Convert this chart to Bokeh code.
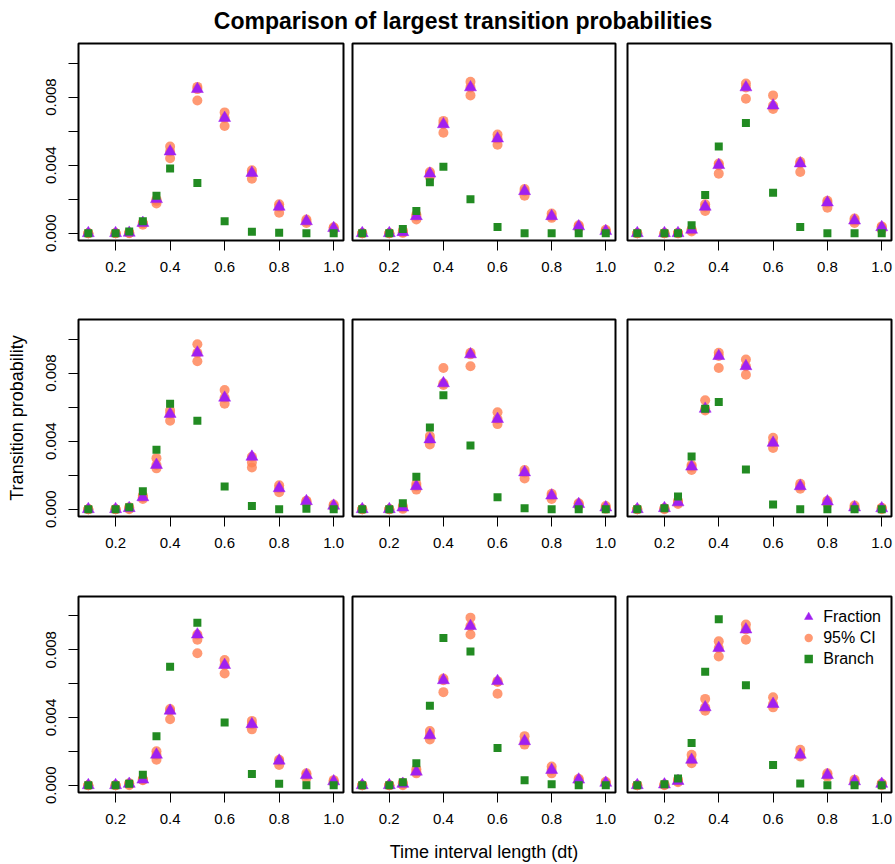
from bokeh.plotting import figure
from bokeh.models import (Range1d, FixedTicker, Legend, LegendItem, Div,
                          ColumnDataSource, PrintfTickFormatter)
from bokeh.layouts import gridplot, column
from bokeh.embed import file_html
from bokeh.resources import INLINE

# ---------------- data ----------------
x_dt = [0.1, 0.2, 0.25, 0.3, 0.35, 0.4, 0.5, 0.6, 0.7, 0.8, 0.9, 1.0]
x_ticks = [0.2, 0.4, 0.6, 0.8, 1.0]
y_ticks = [0.0, 0.004, 0.008]
y_minor_ticks = [0.002, 0.006, 0.010]

frac_1 = [0, 0, 0.00002, 0.0006, 0.002, 0.0048, 0.00847, 0.00677, 0.00354, 0.00155, 0.0007, 0.0003]
lo_1 = [0, 0, 0, 0.0005, 0.00175, 0.0044, 0.0078, 0.0063, 0.0032, 0.0012, 0.0006, 0.0002]
hi_1 = [0, 0, 0.00003, 0.0006, 0.0019, 0.0051, 0.0086, 0.0071, 0.0037, 0.0017, 0.0008, 0.00035]
branch_1 = [0, 0, 0.0001, 0.0007, 0.0022, 0.0038, 0.00295, 0.0007, 0.00008, 0.00002, 0, 0]

frac_2 = [0, 0, 0.00006, 0.001, 0.0035, 0.0064, 0.00857, 0.00556, 0.00247, 0.001, 0.0004, 0.00012]
lo_2 = [0, 0, 0.00002, 0.0008, 0.0033, 0.0059, 0.0081, 0.0052, 0.0022, 0.0009, 0.0003, 0.0001]
hi_2 = [0, 0, 0.00016, 0.0011, 0.0036, 0.0066, 0.0089, 0.0058, 0.0026, 0.00115, 0.00047, 0.0002]
branch_2 = [0, 0, 0.00025, 0.0013, 0.003, 0.0039, 0.002, 0.00037, 0, 0, 0, 0]

frac_3 = [0, 0, 0, 0.0002, 0.00155, 0.004, 0.00857, 0.0075, 0.0041, 0.0018, 0.00074, 0.00035]
lo_3 = [0, 0, 0, 0.0001, 0.0013, 0.0035, 0.0079, 0.0073, 0.0036, 0.0015, 0.0006, 0.0002]
hi_3 = [0, 0, 0.00002, 0.0002, 0.0017, 0.0041, 0.0088, 0.0081, 0.0042, 0.0019, 0.00086, 0.0004]
branch_3 = [0, 0, 0, 0.00047, 0.00225, 0.0051, 0.00648, 0.00237, 0.00037, 0, 0, 0]

frac_4 = [0, 0, 0.00006, 0.0007, 0.0026, 0.0056, 0.0092, 0.00655, 0.00308, 0.00123, 0.00047, 0.0002]
lo_4 = [0, 0, 0, 0.0006, 0.0024, 0.0052, 0.0087, 0.0062, 0.00245, 0.001, 0.00037, 0.00012]
hi_4 = [0, 0, 0.00012, 0.0008, 0.003, 0.0058, 0.0097, 0.007, 0.00275, 0.0014, 0.0005, 0.00027]
branch_4 = [0, 0, 0.00012, 0.00105, 0.0035, 0.0062, 0.0052, 0.00133, 0.00018, 0, 0.00002, 0]

frac_5 = [0, 0, 0.0001, 0.00135, 0.0041, 0.0074, 0.0091, 0.0053, 0.00216, 0.0008, 0.0003, 0.0001]
lo_5 = [0, 0, 0.00002, 0.00115, 0.0038, 0.0073, 0.0084, 0.005, 0.0018, 0.0006, 0.00018, 0.00002]
hi_5 = [0, 0, 0.00018, 0.0015, 0.0043, 0.0083, 0.0092, 0.0057, 0.0023, 0.0009, 0.00035, 0.00018]
branch_5 = [0, 0, 0.00035, 0.0019, 0.0048, 0.0067, 0.00374, 0.0007, 0.00006, 0, 0, 0]

frac_6 = [0, 0.00006, 0.0004, 0.0025, 0.0059, 0.009, 0.0084, 0.0039, 0.00135, 0.00045, 0.0001, 0.00005]
lo_6 = [0, 0, 0.0003, 0.0023, 0.0058, 0.0083, 0.0079, 0.0036, 0.0012, 0.0003, 0.00006, 0]
hi_6 = [0, 0.00006, 0.0005, 0.0026, 0.0064, 0.0092, 0.0088, 0.0042, 0.0015, 0.0005, 0.00022, 0.00008]
branch_6 = [0, 0.00006, 0.00074, 0.0031, 0.0059, 0.0063, 0.00234, 0.00027, 0, 0, 0, 0]

frac_7 = [0, 0, 0.00008, 0.00033, 0.0018, 0.0044, 0.0089, 0.0071, 0.0036, 0.00145, 0.0006, 0.00023]
lo_7 = [0, 0, 0, 0.0003, 0.0015, 0.0039, 0.0078, 0.0066, 0.0033, 0.0012, 0.00043, 0.00014]
hi_7 = [0, 0, 0.00012, 0.00037, 0.002, 0.0045, 0.0086, 0.0074, 0.0038, 0.0015, 0.0007, 0.0003]
branch_7 = [0, 0, 0.00008, 0.00062, 0.0029, 0.007, 0.0096, 0.0037, 0.00066, 0.00008, 0, 0]

frac_8 = [0, 0, 0.00008, 0.0008, 0.00295, 0.0062, 0.0094, 0.00615, 0.0026, 0.0009, 0.00033, 0.00014]
lo_8 = [0, 0, 0, 0.0007, 0.0027, 0.0055, 0.0089, 0.0054, 0.0024, 0.0007, 0.00023, 0.00008]
hi_8 = [0, 0, 0.00014, 0.00095, 0.0032, 0.0063, 0.0099, 0.0061, 0.0029, 0.0011, 0.00038, 0.0002]
branch_8 = [0, 0, 0.00018, 0.0013, 0.0047, 0.0087, 0.0079, 0.0022, 0.0003, 0.00006, 0, 0]

frac_9 = [0, 0.00004, 0.00025, 0.0015, 0.0046, 0.0081, 0.0092, 0.0048, 0.0018, 0.0006, 0.00023, 0.00008]
lo_9 = [0, 0, 0.00018, 0.0013, 0.0044, 0.0076, 0.0086, 0.0046, 0.0017, 0.0005, 0.00014, 0]
hi_9 = [0, 0.00004, 0.00033, 0.0018, 0.0051, 0.0085, 0.0095, 0.0052, 0.0021, 0.0007, 0.00033, 0.0001]
branch_9 = [0, 0.00006, 0.0004, 0.0025, 0.0067, 0.0098, 0.0059, 0.0012, 0.0001, 0, 0, 0]

panels = [
    (frac_1, lo_1, hi_1, branch_1), (frac_2, lo_2, hi_2, branch_2), (frac_3, lo_3, hi_3, branch_3),
    (frac_4, lo_4, hi_4, branch_4), (frac_5, lo_5, hi_5, branch_5), (frac_6, lo_6, hi_6, branch_6),
    (frac_7, lo_7, hi_7, branch_7), (frac_8, lo_8, hi_8, branch_8), (frac_9, lo_9, hi_9, branch_9),
]

title_text = "Comparison of largest transition probabilities"
y_label = "Transition probability"
x_label = "Time interval length (dt)"
legend_labels = ["Fraction", "95% CI", "Branch"]

# ---------------- style / layout ----------------
FONT = "Liberation Sans"
C_FRAC = "#A020F0"
C_CI = "#FF7F50"
C_BRANCH = "#228B22"

col_L = [78, 5, 6]
col_F = [265, 263, 264]
col_R = [4, 6, 4]
row_T = [5, 40, 40]
row_F = [197, 197, 196]
row_B = [39, 40, 72]

figs = []
for r in range(3):
    row = []
    for c in range(3):
        k = r * 3 + c
        frac, lo, hi, branch = panels[k]
        src = ColumnDataSource(dict(x=x_dt, frac=frac, lo=lo, hi=hi, branch=branch))
        p = figure(width=col_L[c] + col_F[c] + col_R[c],
                   height=row_T[r] + row_F[r] + row_B[r],
                   x_range=Range1d(0.064, 1.036),
                   y_range=Range1d(-0.00043, 0.01115),
                   output_backend="svg", toolbar_location=None, tools="",
                   min_border_left=col_L[c], min_border_right=col_R[c],
                   min_border_top=row_T[r], min_border_bottom=row_B[r],
                   x_axis_location="below",
                   y_axis_location="left" if c == 0 else None)
        p.grid.visible = False
        p.outline_line_color = "black"
        p.outline_line_width = 2
        p.background_fill_color = "white"
        p.border_fill_color = "white"

        xa = p.xaxis[0]
        xa.ticker = FixedTicker(ticks=x_ticks)
        xa.formatter = PrintfTickFormatter(format="%.1f")
        xa.axis_line_color = None
        xa.major_tick_out = 10
        xa.major_tick_in = 0
        xa.major_tick_line_color = "black"
        xa.major_tick_line_width = 1
        xa.major_label_text_font = FONT
        xa.major_label_text_font_size = "15px"
        xa.major_label_text_color = "black"
        xa.major_label_standoff = 11
        if r == 2 and c == 1:
            xa.axis_label = x_label
            xa.axis_label_text_font = FONT
            xa.axis_label_text_font_size = "18px"
            xa.axis_label_text_font_style = "normal"
            xa.axis_label_text_color = "black"
            xa.axis_label_standoff = 15

        if c == 0:
            ya = p.yaxis[0]
            ya.ticker = FixedTicker(ticks=y_ticks, minor_ticks=y_minor_ticks)
            ya.formatter = PrintfTickFormatter(format="%.3f")
            ya.axis_line_color = None
            ya.major_tick_out = 10
            ya.major_tick_in = 0
            ya.minor_tick_out = 10
            ya.minor_tick_in = 0
            ya.major_tick_line_color = "black"
            ya.minor_tick_line_color = "black"
            ya.major_tick_line_width = 1
            ya.minor_tick_line_width = 1
            ya.major_label_orientation = "vertical"
            ya.major_label_text_font = FONT
            ya.major_label_text_font_size = "15px"
            ya.major_label_text_color = "black"
            ya.major_label_standoff = 12
            if r == 1:
                ya.axis_label = y_label
                ya.axis_label_text_font = FONT
                ya.axis_label_text_font_size = "18px"
                ya.axis_label_text_font_style = "normal"
                ya.axis_label_text_color = "black"
                ya.axis_label_standoff = 17

        r_ci = p.scatter("x", "lo", source=src, marker="circle", size=10,
                         fill_color=C_CI, fill_alpha=0.8, line_color=None)
        p.scatter("x", "frac", source=src, marker="circle", size=10,
                  fill_color=C_CI, fill_alpha=0.8, line_color=None)
        p.scatter("x", "hi", source=src, marker="circle", size=10,
                  fill_color=C_CI, fill_alpha=0.8, line_color=None)
        r_fr = p.scatter("x", "frac", source=src, marker="triangle", size=12,
                         fill_color=C_FRAC, line_color=C_FRAC, line_width=0.5)
        r_br = p.scatter("x", "branch", source=src, marker="square", size=8,
                         fill_color=C_BRANCH, line_color=None)

        if r == 2 and c == 2:
            legend = Legend(items=[
                LegendItem(label=legend_labels[0], renderers=[r_fr]),
                LegendItem(label=legend_labels[1], renderers=[r_ci]),
                LegendItem(label=legend_labels[2], renderers=[r_br]),
            ], location="top_right", border_line_color=None,
                background_fill_alpha=0, label_text_font=FONT,
                label_text_font_size="16px", label_text_color="black",
                margin=10, padding=10, glyph_width=28, glyph_height=21,
                label_standoff=1, spacing=0, label_height=18)
            p.add_layout(legend)
        row.append(p)
    figs.append(row)

title_div = Div(
    text=('<div style="width:864px;margin-left:31px;padding-top:9px;'
          'text-align:center;font-family:\'Liberation Sans\';font-weight:bold;'
          'font-size:23px;line-height:25px;white-space:nowrap;color:black;">'
          + title_text + '</div>'),
    width=895, height=38, margin=0)

grid = gridplot(figs, toolbar_location=None)
layout = column(title_div, grid, spacing=0)

open("out.html", "w").write(file_html(layout, INLINE))
